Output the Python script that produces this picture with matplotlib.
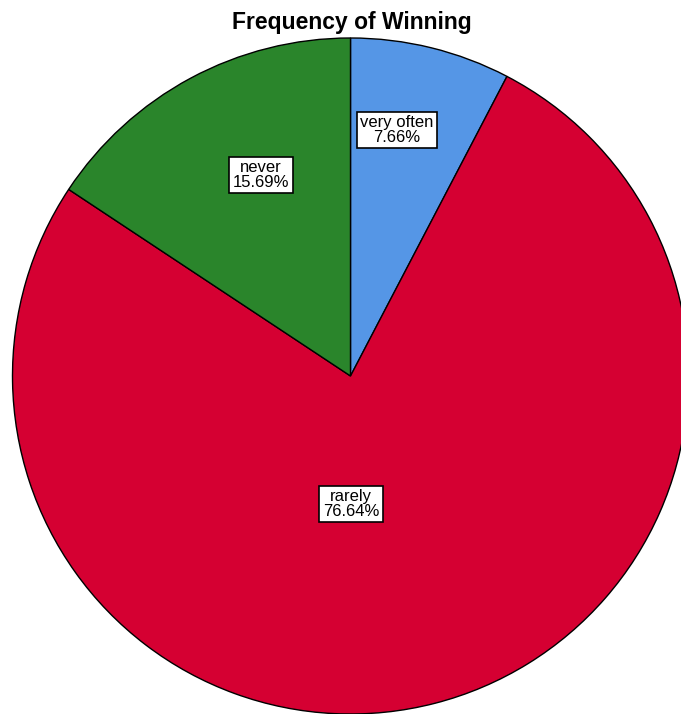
import matplotlib
matplotlib.use("Agg")
import matplotlib.pyplot as plt

categories = ["very often", "rarely", "never"]
percents = [7.66, 76.64, 15.69]
colors = ["#5596e6", "#d50032", "#2a852b"]
title = "Frequency of Winning"

# label box centres in figure pixels (from top-left)
label_px = [(397, 130), (351, 504), (261, 175)]

W, H = 681, 714
cx, cy, r = 350.5, 376.0, 338.0

fig = plt.figure(figsize=(W / 100, H / 100), dpi=100)
ax = fig.add_axes([0, 0, 1, 1])

ax.pie(percents, colors=colors, startangle=90, counterclock=False, radius=1.0,
       wedgeprops=dict(edgecolor="black", linewidth=1.0))

ax.set_aspect("auto")
ax.set_xlim(-cx / r, (W - cx) / r)
ax.set_ylim(-(H - cy) / r, cy / r)
ax.axis("off")

for cat, p, (px, py) in zip(categories, percents, label_px):
    ax.text(px / W, 1 - py / H, f"{cat}\n{p:.2f}%", transform=ax.transAxes,
            ha="center", va="center", fontsize=12, family="Liberation Sans",
            linespacing=0.95,
            bbox=dict(boxstyle="square,pad=0.2", facecolor="white",
                      edgecolor="black", linewidth=1.2))

fig.text(352 / W, 1 - 22 / H, title, ha="center", va="center",
         fontsize=16.5, fontweight="bold", family="Liberation Sans")

fig.savefig("out.png", dpi=100, facecolor="white")
